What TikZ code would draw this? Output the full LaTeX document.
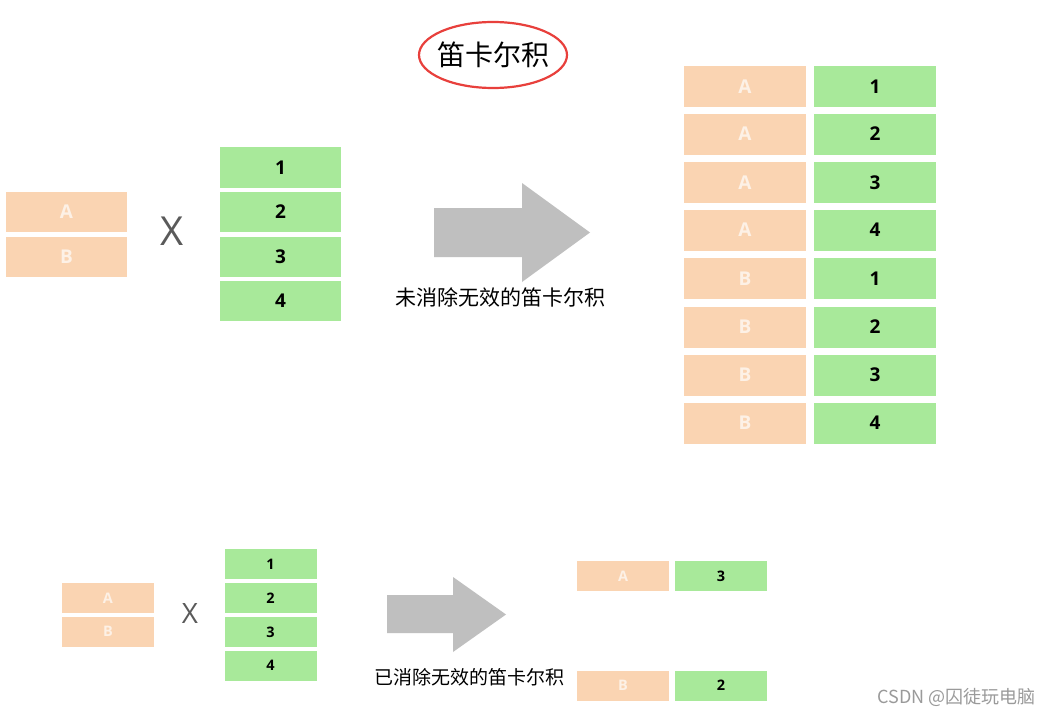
\documentclass[tikz,border=0pt]{standalone}
\usepackage{fontspec}
\usetikzlibrary{shapes.geometric}
\newfontfamily\cjk{Noto Sans CJK SC}
\newfontfamily\osans{Open Sans}
\definecolor{orgc}{HTML}{FAD4B2}
\definecolor{orgtext}{HTML}{FDF1E6}
\definecolor{grnc}{HTML}{A8E99A}
\definecolor{arrc}{HTML}{BFBFBF}
\definecolor{titlered}{HTML}{E8403C}
\definecolor{xgray}{HTML}{5A5A5A}
\definecolor{wmgray}{HTML}{9A9A9A}
\begin{document}
\begin{tikzpicture}[x=1pt,y=-1pt,
  cell/.style={draw=none,inner sep=0pt,outer sep=0pt},
  org/.style={cell,fill=orgc,text=orgtext},
  grn/.style={cell,fill=grnc,text=black},
  bigcell/.style={minimum width=121pt,minimum height=41pt,font=\osans\bfseries\fontsize{19}{19}\selectfont},
  smallcell/.style={minimum width=92pt,minimum height=30pt,font=\osans\bfseries\fontsize{14.5}{14.5}\selectfont},
  times/.style={text=xgray,inner sep=0pt},
  bigarrow/.style={fill=arrc,draw=none},
  cjklabel/.style={font=\cjk\fontsize{19}{19}\selectfont,inner sep=0pt}
]
\useasboundingbox (0,0) rectangle (1053,717);
\fill[white] (0,0) rectangle (1053,717);

% title
\node[inner sep=0pt,font=\cjk\fontsize{28}{28}\selectfont] (title) at (493,55) {笛卡尔积};
\draw[titlered,line width=2.2pt] (title.center) ellipse (74pt and 33pt);

% top-left sets
\node[org,bigcell,minimum height=40pt] (ta) at (66.5,212) {A};
\node[org,bigcell,minimum height=40pt] (tb) at (66.5,257) {B};
\node[times,font=\osans\fontsize{40}{40}\selectfont] (tx) at (172,231) {X};
\node[grn,bigcell] (t1) at (280.5,167.5) {1};
\node[grn,bigcell,minimum height=40pt] (t2) at (280.5,212) {2};
\node[grn,bigcell,minimum height=40pt] (t3) at (280.5,257) {3};
\node[grn,bigcell,minimum height=40pt] (t4) at (280.5,301) {4};

% top arrow
\fill[bigarrow] (434,208) -- (522,208) -- (522,183) -- (590,232.5) -- (522,282) -- (522,257) -- (434,257) -- cycle;
\node[cjklabel,font=\cjk\fontsize{21}{21}\selectfont] (tlabel) at (500,297) {未消除无效的笛卡尔积};

% full product
\foreach \y/\l/\n [count=\i] in {86.5/A/1,134/A/2,182.5/A/3,230/A/4,278.5/B/1,327/B/2,375/B/3,423/B/4}{
  \node[org,bigcell,minimum width=122pt] (ro\i) at (745,\y) {\l};
  \node[grn,bigcell,minimum width=122pt] (rg\i) at (875,\y) {\n};
}

% bottom sets
\node[org,smallcell] (ba) at (108,598) {A};
\node[org,smallcell] (bb) at (108,631.5) {B};
\node[times,font=\osans\fontsize{28}{28}\selectfont] (bx) at (190,614) {X};
\node[grn,smallcell] (b1) at (270.5,564) {1};
\node[grn,smallcell] (b2) at (270.5,598) {2};
\node[grn,smallcell] (b3) at (270.5,632) {3};
\node[grn,smallcell] (b4) at (270.5,665.5) {4};

% bottom arrow
\fill[bigarrow] (387,595) -- (453,595) -- (453,577) -- (506,614.5) -- (453,652) -- (453,633) -- (387,633) -- cycle;
\node[cjklabel] (blabel) at (469,677) {已消除无效的笛卡尔积};

% filtered product
\node[org,smallcell] (fa) at (623,576) {A};
\node[grn,smallcell] (f3) at (721,576) {3};
\node[org,smallcell] (fb) at (623,685.5) {B};
\node[grn,smallcell] (f2) at (721,685.5) {2};

% watermark
\node[font=\cjk\fontsize{18}{18}\selectfont,text=wmgray,inner sep=0pt,anchor=east] (wm) at (1036,697) {CSDN @囚徒玩电脑};
\end{tikzpicture}
\end{document}
